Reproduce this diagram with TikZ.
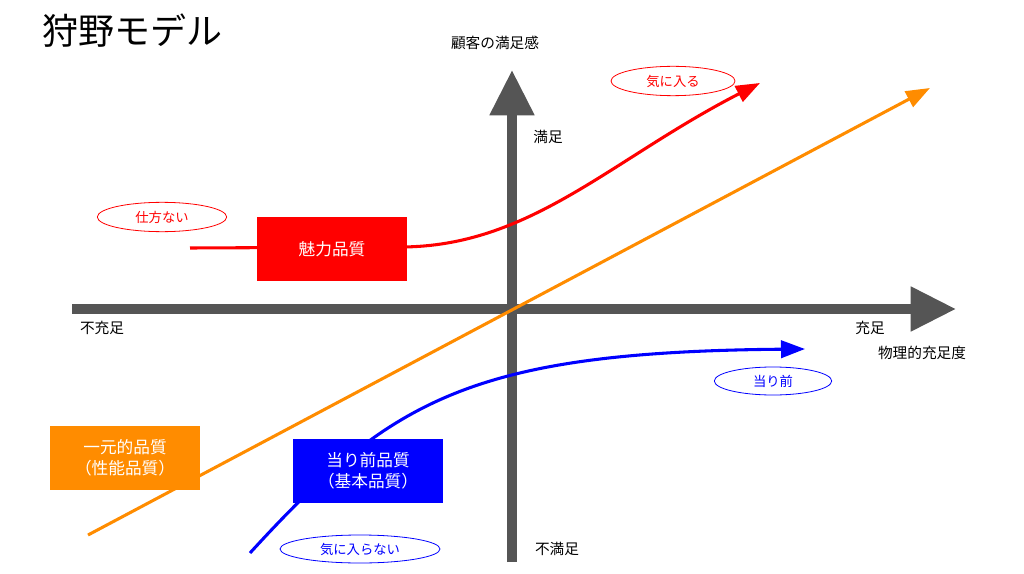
\documentclass[tikz,border=0pt]{standalone}
\usepackage{fontspec}
\setmainfont{Noto Sans CJK JP}
\usetikzlibrary{arrows.meta,shapes.geometric}
\definecolor{axisgray}{RGB}{85,85,85}
\definecolor{korange}{RGB}{255,140,0}
\begin{document}
\begin{tikzpicture}[x=0.75pt,y=-0.75pt,
  axis/.style={draw=axisgray,line width=7pt,-{Triangle[length=34pt,width=32pt]}},
  curve/.style={line width=2.3pt,-{Triangle[length=18pt,width=13pt]}},
  qbox/.style={draw=none,text=white,font=\fontsize{12.5}{16}\selectfont,align=center,minimum width=112pt,minimum height=48pt,inner sep=0pt},
  oval/.style={ellipse,draw,line width=0.6pt,font=\fontsize{10}{12}\selectfont,inner sep=0pt},
  lab/.style={font=\fontsize{11}{13}\selectfont,inner sep=0pt}]
\useasboundingbox (0,0) rectangle (1024,574);
\node[font=\fontsize{27}{30}\selectfont,anchor=west,inner sep=0pt] (title) at (42,31) {狩野モデル};
\coordinate (vb) at (512,562); \coordinate (vt) at (512,70);
\coordinate (hl) at (72,309); \coordinate (hr) at (956,309);
\draw[axis] (vb) -- (vt);
\draw[axis] (hl) -- (hr);
\node[lab] (ylab) at (495,43) {顧客の満足感};
\node[lab] (sat) at (548,137) {満足};
\node[lab] (dis) at (557,549) {不満足};
\node[lab] (ins) at (102,328) {不充足};
\node[lab] (suf) at (870,328) {充足};
\node[lab] (xlab) at (922,353) {物理的充足度};
% orange
\coordinate (o1) at (88,535); \coordinate (o2) at (930,88);
\draw[korange,curve] (o1) -- (o2);
% red
\coordinate (r1) at (190,248); \coordinate (r2) at (400,247); \coordinate (r3) at (760,83);
\draw[red,curve] (r1) -- (r2) .. controls (530,247) and (610,160) .. (r3);
% blue
\coordinate (b1) at (250,553); \coordinate (b2) at (805,349);
\draw[blue,curve] (b1) .. controls (390,400) and (470,352) .. (b2);
\node[qbox,fill=red] (mr) at (332,249) {魅力品質};
\node[qbox,fill=korange] (ic) at (125,458) {一元的品質\\（性能品質）};
\node[qbox,fill=blue] (am) at (368,471) {当り前品質\\（基本品質）};
\node[oval,draw=red,text=red,minimum width=97pt,minimum height=22pt,fill=white] (sk) at (162,217) {仕方ない};
\node[oval,draw=red,text=red,minimum width=93pt,minimum height=22pt,fill=white] (kn) at (673,81) {気に入る};
\node[oval,draw=blue,text=blue,minimum width=88pt,minimum height=21pt,fill=white] (at) at (773,381) {当り前};
\node[oval,draw=blue,text=blue,minimum width=120pt,minimum height=21pt,fill=white] (kr) at (360,549) {気に入らない};
\end{tikzpicture}
\end{document}
